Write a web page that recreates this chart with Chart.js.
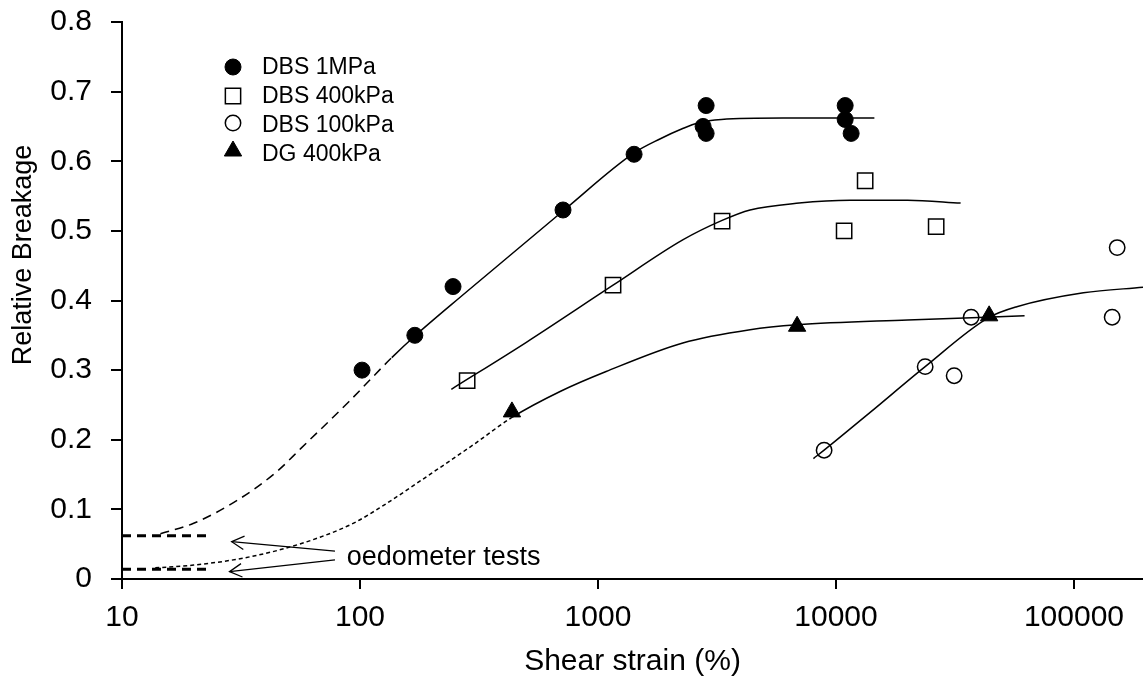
<!DOCTYPE html>
<html>
<head>
<meta charset="utf-8">
<script src="https://cdn.jsdelivr.net/npm/chart.js@4.4.1/dist/chart.umd.min.js"></script>
<style>
  html, body { margin: 0; padding: 0; background: #fff; }
  #wrap { width: 1143px; height: 684px; }
</style>
</head>
<body>
<div id="wrap"><canvas id="chart" width="1143" height="684"></canvas></div>
<script>
// ── data ──────────────────────────────────────────────
const X_TICKS = [10, 100, 1000, 10000, 100000];
const LEGEND_LABELS = ['DBS 1MPa', 'DBS 400kPa', 'DBS 100kPa', 'DG 400kPa'];

// measured points
const dbs1mX  = [102, 170, 246, 713, 1418, 2847, 2765, 2847, 10930, 10930, 11580];
const dbs1mY  = [0.30, 0.35, 0.42, 0.53, 0.61, 0.68, 0.65, 0.64, 0.68, 0.66, 0.64];
const dbs400X = [282, 1157, 3323, 10820, 13260, 26360];
const dbs400Y = [0.285, 0.422, 0.514, 0.50, 0.572, 0.506];
const dbs100X = [8915, 23700, 31370, 36980, 151900, 144700];
const dbs100Y = [0.185, 0.305, 0.292, 0.376, 0.476, 0.376];
const dg400X  = [435, 6866, 44010];
const dg400Y  = [0.24, 0.363, 0.378];

// trend curves (first N segments dashed)
const fit1mX  = [14.5, 20, 30.5, 45, 56.6, 90, 136, 170, 275, 721, 1418, 1820, 2270, 2630, 3300, 6000, 14500];
const fit1mY  = [0.065, 0.08, 0.113, 0.155, 0.188, 0.255, 0.318, 0.349, 0.41, 0.53, 0.612, 0.632, 0.647, 0.655, 0.66, 0.662, 0.662];
const fit1mDashed = 6;
const fit400X = [242, 500, 1157, 2270, 3323, 4355, 7000, 11460, 20000, 33400];
const fit400Y = [0.2725, 0.34, 0.422, 0.487, 0.515, 0.53, 0.54, 0.544, 0.544, 0.54];
const fit100X = [8040, 8915, 14000, 23700, 43600, 57500, 109600, 195000];
const fit100Y = [0.173, 0.185, 0.24, 0.305, 0.375, 0.391, 0.411, 0.419];
const fitDgX  = [13.8, 20, 30, 45, 67.9, 95, 124.6, 183, 300, 435, 700, 1082, 2272, 4355, 6866, 20000, 62000];
const fitDgY  = [0.016, 0.02, 0.028, 0.041, 0.06, 0.081, 0.105, 0.143, 0.193, 0.232, 0.27, 0.298, 0.339, 0.358, 0.365, 0.372, 0.378];
const fitDgDashed = 9;

// oedometer tests
const oedoX      = [10, 23.1];
const oedoHighY  = [0.062, 0.062];
const oedoLowY   = [0.014, 0.014];
const arrowHighX = [78.5, 28.9];
const arrowHighY = [0.040, 0.0536];
const arrowLowX  = [78.5, 28.3];
const arrowLowY  = [0.0275, 0.0105];
const NOTE_TEXT = 'oedometer tests';
const NOTE_X = 88, NOTE_Y = 0.020;

const X_TITLE = 'Shear strain (%)';
const Y_TITLE = 'Relative Breakage';

// ── styling ──────────────────────────────────────────
const FONT = "'Liberation Sans', Arial, sans-serif";
const BLACK = '#000';
const CLEAR = 'rgba(0,0,0,0)';

const pts = (xs, ys) => xs.map((x, i) => ({ x, y: ys[i] }));

function markers(label, xs, ys, style, radius, filled) {
  return {
    label, data: pts(xs, ys), showLine: false,
    pointStyle: style, pointRadius: radius, pointHoverRadius: radius,
    pointBackgroundColor: filled ? BLACK : CLEAR,
    pointBorderColor: BLACK, pointBorderWidth: filled ? 1 : 1.5,
  };
}

function curve(xs, ys, dashedSegs, dash, width) {
  return {
    data: pts(xs, ys), showLine: true, pointRadius: 0, pointHoverRadius: 0,
    borderColor: BLACK, borderWidth: width || 1.5,
    cubicInterpolationMode: 'monotone',
    segment: { borderDash: c => (c.p0DataIndex < dashedSegs ? dash : []) },
  };
}

function straight(xs, ys, width, dash) {
  return {
    data: pts(xs, ys), showLine: true, pointRadius: 0, pointHoverRadius: 0,
    borderColor: BLACK, borderWidth: width, borderDash: dash || [], tension: 0,
  };
}

function drawMarker(ctx, style, x, y, r, filled) {
  ctx.beginPath();
  if (style === 'circle') {
    ctx.arc(x, y, r, 0, Math.PI * 2);
  } else if (style === 'rect') {
    const s = r * Math.SQRT1_2;
    ctx.rect(x - s, y - s, 2 * s, 2 * s);
  } else if (style === 'triangle') {
    for (let k = 0; k < 3; k++) {
      const a = k * 2 * Math.PI / 3;
      const px = x + Math.sin(a) * r, py = y - Math.cos(a) * r;
      k ? ctx.lineTo(px, py) : ctx.moveTo(px, py);
    }
    ctx.closePath();
  }
  if (filled) { ctx.fillStyle = BLACK; ctx.fill(); }
  ctx.lineWidth = filled ? 1 : 1.5;
  ctx.strokeStyle = BLACK;
  ctx.stroke();
}

const LEGEND_MARKS = [
  ['circle', 8, true], ['rect', 10.8, false], ['circle', 7.7, false], ['triangle', 10, true],
];

const annotations = {
  id: 'annotations',
  afterDatasetsDraw(chart) {
    const { ctx, chartArea } = chart;
    const xs = chart.scales.x, ys = chart.scales.y;
    ctx.save();

    // arrow heads
    ctx.strokeStyle = BLACK;
    ctx.lineWidth = 1.3;
    [[arrowHighX, arrowHighY], [arrowLowX, arrowLowY]].forEach(([ax, ay]) => {
      const x0 = xs.getPixelForValue(ax[0]), y0 = ys.getPixelForValue(ay[0]);
      const x1 = xs.getPixelForValue(ax[1]), y1 = ys.getPixelForValue(ay[1]);
      const a = Math.atan2(y1 - y0, x1 - x0);
      ctx.beginPath();
      ctx.moveTo(x1 - 14 * Math.cos(a - 0.5), y1 - 14 * Math.sin(a - 0.5));
      ctx.lineTo(x1, y1);
      ctx.lineTo(x1 - 14 * Math.cos(a + 0.5), y1 - 14 * Math.sin(a + 0.5));
      ctx.stroke();
    });

    // note text
    ctx.fillStyle = BLACK;
    ctx.font = `27px ${FONT}`;
    ctx.textAlign = 'left';
    ctx.textBaseline = 'alphabetic';
    ctx.fillText(NOTE_TEXT, xs.getPixelForValue(NOTE_X), ys.getPixelForValue(NOTE_Y));

    // legend inside the plot
    const markX = chartArea.left + 111, textX = chartArea.left + 140;
    const markRows = [45, 74, 101, 129], textRows = [46, 75, 104, 133];
    LEGEND_LABELS.forEach((lab, i) => {
      const [st, r, f] = LEGEND_MARKS[i];
      drawMarker(ctx, st, markX, chartArea.top + markRows[i], r, f);
      ctx.fillStyle = BLACK;
      ctx.font = `23px ${FONT}`;
      ctx.textBaseline = 'middle';
      ctx.fillText(lab, textX, chartArea.top + textRows[i]);
    });

    // y axis title
    ctx.translate(24, 255);
    ctx.rotate(-Math.PI / 2);
    ctx.font = `27px ${FONT}`;
    ctx.textAlign = 'center';
    ctx.textBaseline = 'middle';
    ctx.fillText(Y_TITLE, 0, 0);
    ctx.restore();
  },
};

const datasets = [
  curve(fit1mX, fit1mY, fit1mDashed, [9, 6]),
  curve(fit400X, fit400Y, 0, []),
  curve(fit100X, fit100Y, 0, []),
  curve(fitDgX, fitDgY, fitDgDashed, [4, 3]),
  straight(oedoX, oedoHighY, 3, [9, 6]),
  straight(oedoX, oedoLowY, 3, [9, 6]),
  straight(arrowHighX, arrowHighY, 1.3),
  straight(arrowLowX, arrowLowY, 1.3),
  markers(LEGEND_LABELS[0], dbs1mX, dbs1mY, 'circle', 8, true),
  markers(LEGEND_LABELS[1], dbs400X, dbs400Y, 'rect', 10.8, false),
  markers(LEGEND_LABELS[2], dbs100X, dbs100Y, 'circle', 7.7, false),
  markers(LEGEND_LABELS[3], dg400X, dg400Y, 'triangle', 10, true),
];

new Chart(document.getElementById('chart'), {
  type: 'scatter',
  data: { datasets },
  options: {
    responsive: false,
    animation: false,
    events: [],
    layout: { autoPadding: false, padding: { top: 22, right: 0, bottom: 0, left: 0 } },
    plugins: { legend: { display: false }, tooltip: { enabled: false } },
    scales: {
      x: {
        type: 'logarithmic',
        min: 10, max: 195000,
        afterBuildTicks: s => { s.ticks = X_TICKS.map(v => ({ value: v })); },
        afterFit: s => { s.height = 105; s.paddingLeft = 0; s.paddingRight = 0; },
        ticks: {
          color: BLACK, font: { family: FONT, size: 30 }, padding: 11,
          autoSkip: false, maxRotation: 0, minRotation: 0,
          callback: v => String(v),
        },
        grid: { drawOnChartArea: false, drawTicks: true, tickLength: 10, color: BLACK, lineWidth: 2 },
        border: { display: true, color: BLACK, width: 2 },
        title: { display: true, text: X_TITLE, color: BLACK, font: { family: FONT, size: 30 }, padding: { top: 0, bottom: 4 } },
      },
      y: {
        min: 0, max: 0.8,
        afterFit: s => { s.width = 122; s.paddingTop = 0; s.paddingBottom = 0; },
        ticks: {
          stepSize: 0.1, color: BLACK, font: { family: FONT, size: 30 }, padding: 19,
          callback: v => (Math.abs(v) < 1e-9 ? '0' : v.toFixed(1)),
        },
        grid: { drawOnChartArea: false, drawTicks: true, tickLength: 11, color: BLACK, lineWidth: 2 },
        border: { display: true, color: BLACK, width: 2 },
      },
    },
  },
  plugins: [annotations],
});
</script>
</body>
</html>
